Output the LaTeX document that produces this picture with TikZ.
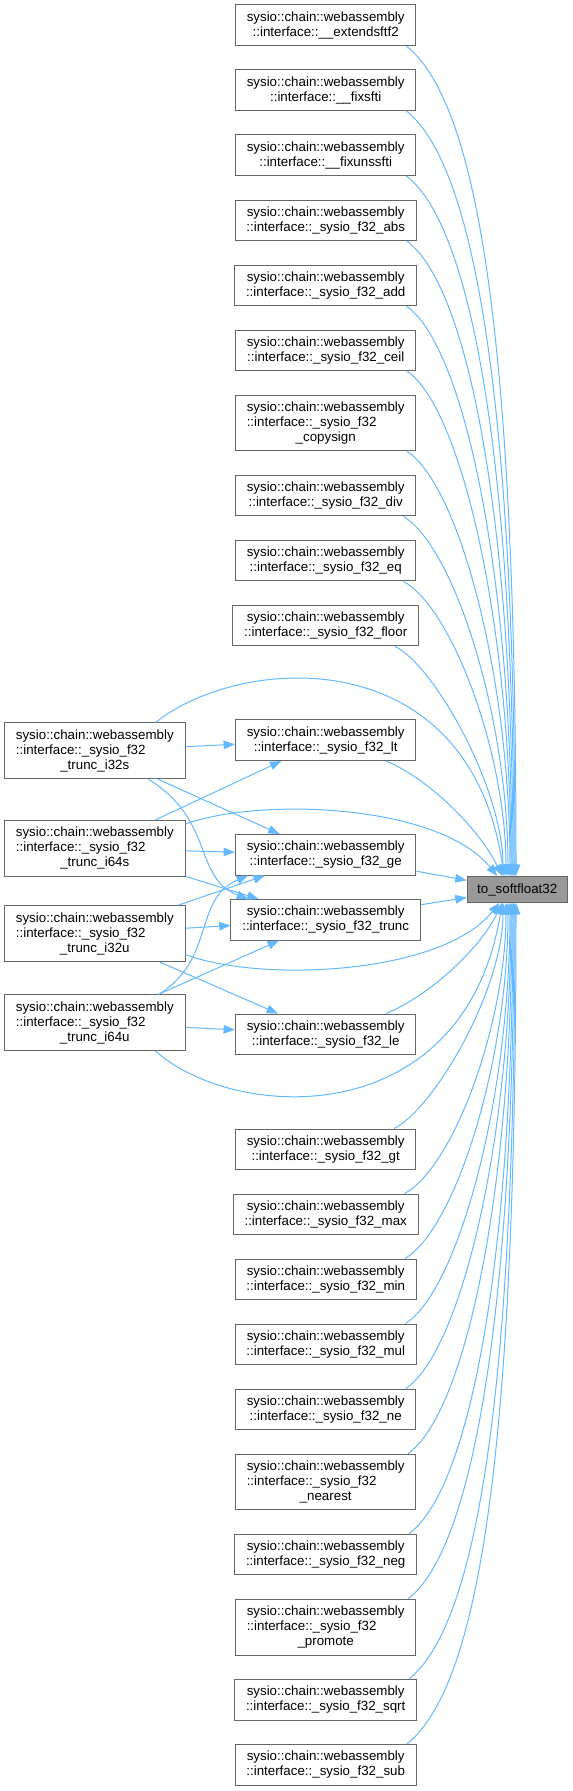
\documentclass[tikz,border=0pt]{standalone}
\usepackage{fontspec}
\setmainfont{Liberation Sans}
\usetikzlibrary{arrows.meta,positioning}
\definecolor{callblue}{HTML}{63B8FF}
\definecolor{framegray}{HTML}{666666}
\definecolor{hlgray}{HTML}{999999}
\newcommand{\wasm}[1]{sysio::chain::webassembly\\::interface::#1}
\newcommand{\wasmf}[1]{sysio::chain::webassembly\\\rlap{::interface::\_sysio\_f32}\phantom{sysio::chain::webassembly}\\#1}

\begin{document}
\begin{tikzpicture}[
  x=0.75pt, y=-0.75pt, node distance=17.55pt,
  font=\fontsize{10pt}{11.25pt}\selectfont,
  fn/.style={draw=framegray, line width=0.75pt, fill=white, align=center,
             inner xsep=8.5pt, inner ysep=3pt, minimum height=30.45pt},
  fn3/.style={fn, minimum height=41.9pt},
  hl/.style={fn, fill=hlgray, inner xsep=7.5pt, minimum height=19.5pt},
  call/.style={draw=callblue, line width=0.75pt, -{Triangle[length=8.5pt,width=6.4pt]}}]
\useasboundingbox (0,0) rectangle (573,1791);
% callers, right column
\node[fn] (ext) at (325.7,25.3) {\wasm{\_\_extendsftf2}};
\node[fn, below=of ext] (fixsfti) {\wasm{\_\_fixsfti}};
\node[fn, below=of fixsfti] (fixuns) {\wasm{\_\_fixunssfti}};
\node[fn, below=of fixuns] (abs) {\wasm{\_sysio\_f32\_abs}};
\node[fn, below=of abs] (add) {\wasm{\_sysio\_f32\_add}};
\node[fn, below=of add] (ceil) {\wasm{\_sysio\_f32\_ceil}};
\node[fn3, below=of ceil] (copysign) {\wasmf{\_copysign}};
\node[fn, below=of copysign] (div) {\wasm{\_sysio\_f32\_div}};
\node[fn, below=of div] (eq) {\wasm{\_sysio\_f32\_eq}};
\node[fn, below=of eq] (floor) {\wasm{\_sysio\_f32\_floor}};
\node[fn, below=54.75pt of floor] (lt) {\wasm{\_sysio\_f32\_lt}};
\node[fn, below=54.75pt of lt] (ge) {\wasm{\_sysio\_f32\_ge}};
\node[fn, below=of ge] (trunc) {\wasm{\_sysio\_f32\_trunc}};
\node[fn, below=54.75pt of trunc] (le) {\wasm{\_sysio\_f32\_le}};
\node[fn, below=55.05pt of le] (gt) {\wasm{\_sysio\_f32\_gt}};
\node[fn, below=of gt] (max) {\wasm{\_sysio\_f32\_max}};
\node[fn, below=of max] (min) {\wasm{\_sysio\_f32\_min}};
\node[fn, below=of min] (mul) {\wasm{\_sysio\_f32\_mul}};
\node[fn, below=of mul] (ne) {\wasm{\_sysio\_f32\_ne}};
\node[fn3, below=of ne] (nearest) {\wasmf{\_nearest}};
\node[fn, below=of nearest] (neg) {\wasm{\_sysio\_f32\_neg}};
\node[fn3, below=of neg] (promote) {\wasmf{\_promote}};
\node[fn, below=of promote] (sqrt) {\wasm{\_sysio\_f32\_sqrt}};
\node[fn, below=of sqrt] (sub) {\wasm{\_sysio\_f32\_sub}};
% left column and callee
\node[fn3] (i32s) at (94.8,750.8) {\wasmf{\_trunc\_i32s}};
\node[fn3] (i64s) at (94.8,848.3) {\wasmf{\_trunc\_i64s}};
\node[fn3] (i32u) at (94.8,933.7) {\wasmf{\_trunc\_i32u}};
\node[fn3] (i64u) at (94.8,1022.8) {\wasmf{\_trunc\_i64u}};
\node[hl] (soft) at (517.2,889.5) {to\_softfloat32};
% calls from above
\foreach \n/\s/\a/\b/\k/\e in {ext/-7.5pt/74/59/523/-0.9pt, fixsfti/-7.5pt/70/55/462/-1.65pt,
    fixuns/-7.5pt/67/51/403/-2.4pt, abs/-7.5pt/63/46/348/-3.15pt, add/-8pt/59/42/297/-3.9pt,
    ceil/-7pt/55/38/249/-4.65pt, copysign/-7pt/53/35/196/-5.4pt, div/-9.75pt/52/32/156/-6.9pt,
    eq/-9.75pt/50/28/120/-8.4pt, floor/-18pt/40/20/87/-10.65pt}
  \draw[call] ([xshift=\s]\n.south east) .. controls +(\a,\b) and +(0,-\k) .. ([xshift=\e]soft.north);
% calls from below
\foreach \n/\s/\a/\b/\k/\e in {gt/-16.8pt/40/20/87/-10.65pt, max/-10.5pt/50/28/119/-8.4pt,
    min/-8.8pt/52/32/155/-6.9pt, mul/-8.5pt/53/34/195/-5.4pt, ne/-8pt/55/37/238/-4.65pt,
    nearest/-6.3pt/58/41/285/-3.9pt, neg/-6.3pt/63/46/347/-3.15pt, promote/-6.3pt/66/50/401/-2.4pt,
    sqrt/-6.3pt/71/56/472/-1.65pt, sub/-7.5pt/75/60/535/-0.9pt}
  \draw[call] ([xshift=\s]\n.north east) .. controls +(\a,-\b) and +(0,\k) .. ([xshift=\e]soft.south);
% middle column
\draw[call] (lt.-19) .. controls +(43,18) and +(-23,-47) .. (soft.138);
\draw[call] (ge) -- (soft);
\draw[call] (trunc) -- (soft);
\draw[call] (le.19) .. controls +(43,-18) and +(-23,47) .. (soft.-138);
% left column
\draw[call] (i32s) -- (lt);
\draw[call] (i32s) -- (ge);
\draw[call] (i32s.-28) .. controls +(67,41) and +(-55,-21) .. (trunc.165);
\draw[call] (i32s.25) .. controls +(85,-68) and +(-35,-237) .. (soft.134);
\draw[call] (i64s) -- (lt);
\draw[call] (i64s) -- (ge);
\draw[call] (i64s) -- (trunc);
\draw[call] (i64s.15) .. controls +(75,-27) and +(-58,-72) .. (soft.146);
\draw[call] (i32u) -- (ge);
\draw[call] (i32u) -- (trunc);
\draw[call] (i32u) -- (le);
\draw[call] (i32u.-13) .. controls +(75,28) and +(-58,72) .. (soft.-143);
\draw[call] (i64u.24) .. controls +(57,-35) and +(-55,23) .. (ge.195);
\draw[call] (i64u) -- (trunc);
\draw[call] (i64u) -- (le);
\draw[call] (i64u.-25) .. controls +(80,71) and +(-38,230) .. (soft.-138);
\end{tikzpicture}
\end{document}
